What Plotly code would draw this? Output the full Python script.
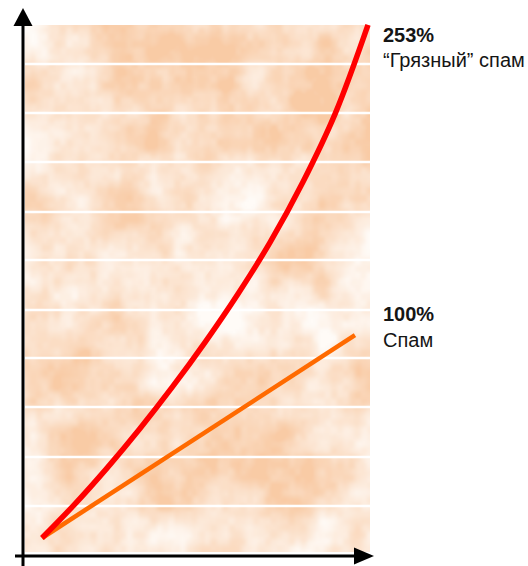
import base64
import struct
import zlib

import numpy as np
import plotly.graph_objects as go

# ---- data -------------------------------------------------------------
# growth of "dirty" spam, % over the starting level
dirty_x = [0, 1, 2, 3, 4, 5, 6, 7, 8, 9, 10]
dirty_y = [0, 16.6, 34.6, 53.9, 74.5, 96.5, 120.1, 145.9, 175.4, 209.5, 253]
# growth of ordinary spam, % over the starting level
spam_x = [0, 9.6]
spam_y = [0, 100]

dirty_value = "253%"
dirty_name = "“Грязный” спам"
spam_value = "100%"
spam_name = "Спам"

W, H = 528, 566

# ---- helpers ----------------------------------------------------------
def px(x):
    return x / W


def py(y):
    return 1 - y / H


def png_data_uri(rgb):
    h, w, _ = rgb.shape
    raw = b"".join(b"\x00" + rgb[r].tobytes() for r in range(h))

    def chunk(tag, data):
        c = struct.pack(">I", len(data)) + tag + data
        return c + struct.pack(">I", zlib.crc32(tag + data) & 0xFFFFFFFF)

    png = b"\x89PNG\r\n\x1a\n"
    png += chunk(b"IHDR", struct.pack(">IIBBBBB", w, h, 8, 2, 0, 0, 0))
    png += chunk(b"IDAT", zlib.compress(raw, 9))
    png += chunk(b"IEND", b"")
    return "data:image/png;base64," + base64.b64encode(png).decode()


def lattice(ix, iy):
    v = np.sin(ix * 127.1 + iy * 311.7) * 43758.5453
    return v - np.floor(v)


def value_noise(X, Y, cx, cy):
    x, y = X / cx, Y / cy
    ix, iy = np.floor(x), np.floor(y)
    fx, fy = x - ix, y - iy
    sx, sy = fx * fx * (3 - 2 * fx), fy * fy * (3 - 2 * fy)
    a = lattice(ix, iy)
    b = lattice(ix + 1, iy)
    c = lattice(ix, iy + 1)
    d = lattice(ix + 1, iy + 1)
    return (a * (1 - sx) + b * sx) * (1 - sy) + (c * (1 - sx) + d * sx) * sy


# ---- cloudy peach backdrop ------------------------------------------
bx0, bx1, by0, by1 = 25, 370, 25, 552
tw, th = (bx1 - bx0) // 2, (by1 - by0) // 2
X, Y = np.meshgrid(np.arange(tw) * 2.0, np.arange(th) * 2.0)
n = (0.45 * value_noise(X, Y, 48, 58)
     + 0.28 * value_noise(X + 13, Y + 7, 24, 30)
     + 0.17 * value_noise(X + 5, Y + 31, 12, 15)
     + 0.10 * value_noise(X + 41, Y + 3, 6, 7))
n = (n - n.min()) / (n.max() - n.min())
t = np.clip((n - 0.1) / 0.72, 0, 1)
orange = np.array([249, 203, 165], float)
white = np.array([255, 251, 247], float)
tex = (white * (1 - t[..., None]) + orange * t[..., None]).astype(np.uint8)

# ---- figure -----------------------------------------------------------
ux = 32.6   # pixels per x step
uy = 2.028  # pixels per percent
x0_px, y0_px = 42, 538

fig = go.Figure()
fig.add_trace(go.Scatter(
    x=spam_x, y=spam_y, mode="lines",
    line=dict(color="#ff6a00", width=4.5), hoverinfo="skip"))
fig.add_trace(go.Scatter(
    x=dirty_x, y=dirty_y, mode="lines",
    line=dict(color="#ff0000", width=5.5, shape="spline", smoothing=1.0),
    hoverinfo="skip"))

fig.add_layout_image(dict(
    source=png_data_uri(tex), xref="paper", yref="paper",
    x=px(bx0), y=py(by0), sizex=px(bx1) - px(bx0), sizey=py(by0) - py(by1),
    sizing="stretch", layer="below", xanchor="left", yanchor="top"))

shapes = []
for gy in [64, 113, 162, 212, 260, 310, 358, 407, 457, 506]:
    shapes.append(dict(type="line", xref="paper", yref="paper",
                       x0=px(bx0), x1=px(bx1), y0=py(gy), y1=py(gy),
                       line=dict(color="white", width=2.5), layer="below"))

# axes with arrowheads
shapes.append(dict(type="line", xref="paper", yref="paper",
                   x0=px(23), x1=px(23), y0=py(566), y1=py(22),
                   line=dict(color="black", width=3)))
shapes.append(dict(type="line", xref="paper", yref="paper",
                   x0=px(15), x1=px(358), y0=py(556), y1=py(556),
                   line=dict(color="black", width=3)))
shapes.append(dict(
    type="path", xref="paper", yref="paper",
    path=f"M {px(23)} {py(8)} L {px(32.5)} {py(26)} L {px(13.5)} {py(26)} Z",
    fillcolor="black", line=dict(width=0)))
shapes.append(dict(
    type="path", xref="paper", yref="paper",
    path=f"M {px(374)} {py(556)} L {px(354)} {py(547.5)} L {px(354)} {py(564.5)} Z",
    fillcolor="black", line=dict(width=0)))

font_b = dict(family="Liberation Sans, Arial, sans-serif", size=20, color="#151515")
font_r = dict(family="Liberation Sans, Arial, sans-serif", size=20, color="#151515")
annotations = [
    dict(text=f"<b>{dirty_value}</b>", x=px(381), y=py(35), font=font_b),
    dict(text=dirty_name, x=px(381), y=py(60), font=font_r),
    dict(text=f"<b>{spam_value}</b>", x=px(381), y=py(314), font=font_b),
    dict(text=spam_name, x=px(381), y=py(340), font=font_r),
]
for a in annotations:
    a.update(xref="paper", yref="paper", xanchor="left", yanchor="middle",
             showarrow=False)

fig.update_layout(
    width=W, height=H, autosize=False,
    margin=dict(l=0, r=0, t=0, b=0),
    paper_bgcolor="white", plot_bgcolor="rgba(0,0,0,0)",
    showlegend=False,
    shapes=shapes, annotations=annotations,
    xaxis=dict(range=[-x0_px / ux, (W - x0_px) / ux], visible=False,
               fixedrange=True),
    yaxis=dict(range=[-(H - y0_px) / uy, y0_px / uy], visible=False,
               fixedrange=True),
)

fig.write_html("out.html")
